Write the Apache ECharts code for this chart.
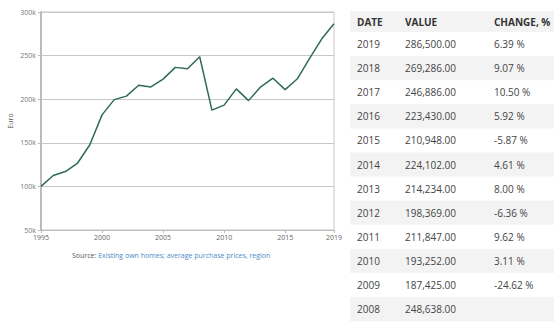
<!DOCTYPE html>
<html>
<head>
<meta charset="utf-8">
<script src="https://cdn.jsdelivr.net/npm/echarts@6/dist/echarts.min.js"></script>
<style>
html,body{margin:0;padding:0;background:#fff;}
#c{width:554px;height:325px;}
</style>
</head>
<body>
<div id="c"></div>
<script>
// ---- data ----
const years = [1995,1996,1997,1998,1999,2000,2001,2002,2003,2004,2005,2006,2007,2008,2009,2010,2011,2012,2013,2014,2015,2016,2017,2018,2019];
const prices = [100000,112500,117000,126800,147800,182000,199500,203500,216000,214000,223000,236500,235000,248638,187425,193252,211847,198369,214234,224102,210948,223430,246886,269286,286500];
const tableYears = [2019,2018,2017,2016,2015,2014,2013,2012,2011,2010,2009,2008];
const tableValues = [286500,269286,246886,223430,210948,224102,214234,198369,211847,193252,187425,248638];
const tableChanges = [6.39,9.07,10.50,5.92,-5.87,4.61,8.00,-6.36,9.62,3.11,-24.62,null];
const tableHeaders = ['DATE','VALUE','CHANGE, %'];
const sourceLabel = 'Source: ';
const sourceLink = 'Existing own homes; average purchase prices, region';
const yAxisName = 'Euro';

// ---- chart ----
const chart = echarts.init(document.getElementById('c'), null, {renderer:'svg'});
const FONT = '"Open Sans", "DejaVu Sans", sans-serif';

function fmtNum(v){
  return v.toLocaleString('en-US',{minimumFractionDigits:2,maximumFractionDigits:2});
}

const graphics = [];
const tX = 350, tW = 204, headTop = 11, headH = 21, rowH = 24.1;
const colX = [357, 405, 494];
graphics.push({type:'rect', shape:{x:tX,y:headTop,width:tW,height:headH}, style:{fill:'#f3f3f3'}, silent:true});
tableHeaders.forEach((h,i)=>{
  graphics.push({type:'text', x:colX[i], y:headTop+headH/2, style:{text:h, font:'bold 10px '+FONT, fill:'#333', verticalAlign:'middle'}});
});
tableYears.forEach((yr,r)=>{
  const top = headTop+headH+r*rowH;
  if (r%2===1) graphics.push({type:'rect', shape:{x:tX,y:top,width:tW,height:rowH}, style:{fill:'#f3f3f3'}, silent:true});
  const cells = [String(yr), fmtNum(tableValues[r]), tableChanges[r]===null?'':tableChanges[r].toFixed(2)+' %'];
  cells.forEach((t,i)=>{
    graphics.push({type:'text', x:colX[i], y:top+rowH/2, style:{text:t, font:'10px '+FONT, fill:'#444', verticalAlign:'middle'}});
  });
});
graphics.push({type:'text', left:72, top:252, style:{
  text:'{a|'+sourceLabel+'}{b|'+sourceLink+'}',
  rich:{a:{fill:'#555',font:'7px '+FONT},b:{fill:'#4a8bc9',font:'7px '+FONT}}
}});

chart.setOption({
  animation:false,
  grid:{left:41,right:220,top:12,bottom:95,show:true,borderColor:'#c8c8c8',borderWidth:1,outerBoundsMode:'none',containLabel:false},
  xAxis:{type:'value',min:1995,max:2019,interval:5,
    axisLine:{show:true,lineStyle:{color:'#bbb',width:1}},
    axisTick:{show:true,length:3,lineStyle:{color:'#bbb'}},
    splitLine:{show:false},
    axisLabel:{show:true,showMaxLabel:true,showMinLabel:true,color:'#666',fontSize:7,fontFamily:FONT,margin:4,formatter:v=>String(v)}
  },
  yAxis:{type:'value',min:50000,max:300000,interval:50000,
    name:yAxisName,nameLocation:'middle',nameGap:27,nameRotate:90,nameMoveOverlap:false,
    nameTextStyle:{color:'#555',fontSize:7,fontFamily:FONT},
    axisLine:{show:true,lineStyle:{color:'#bbb',width:2}},
    axisTick:{show:true,length:3,lineStyle:{color:'#bbb'}},
    splitLine:{show:true,lineStyle:{color:'#c8c8c8',width:1}},
    axisLabel:{color:'#777',fontSize:7,fontFamily:FONT,margin:5,formatter:v=>(v/1000)+'k'}
  },
  series:[{type:'line',data:years.map((y,i)=>[y,prices[i]]),showSymbol:false,
    lineStyle:{color:'#2f6b55',width:1.5},itemStyle:{color:'#2f6b55'}}],
  graphic:graphics
});
</script>
</body>
</html>
